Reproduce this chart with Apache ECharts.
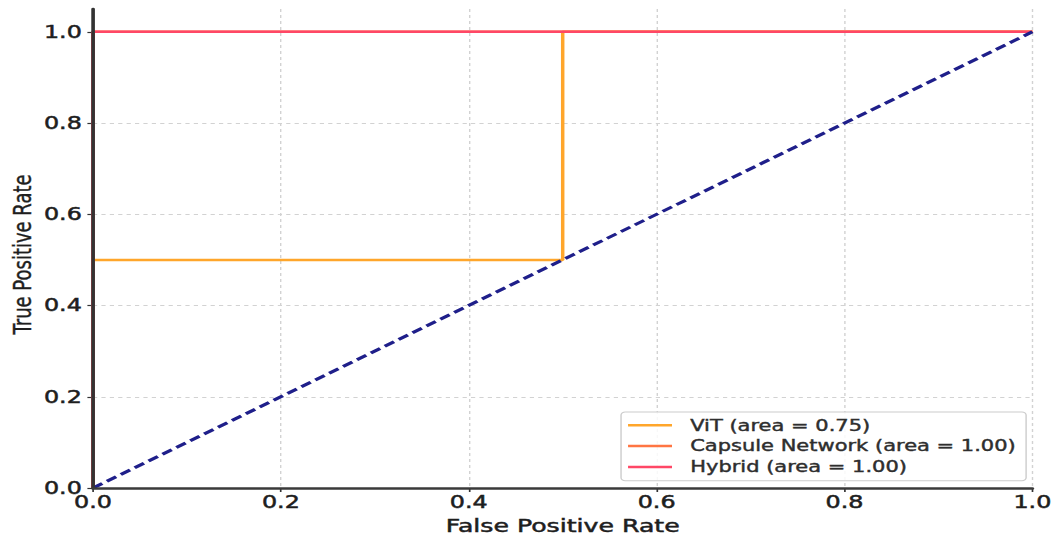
<!DOCTYPE html>
<html>
<head>
<meta charset="utf-8">
<title>ROC curves</title>
<script src="https://cdn.jsdelivr.net/npm/echarts@6/dist/echarts.min.js"></script>
<style>
  html, body { margin: 0; padding: 0; background: #ffffff; overflow: hidden; }
  /* the figure is laid out narrow and widened horizontally */
  #chart {
    width: 756.43px;
    height: 535px;
    transform: scaleX(1.4);
    transform-origin: 0 0;
  }
</style>
</head>
<body>
<div id="chart"></div>
<script>
// ROC points (false positive rate / true positive rate) per model
const vitFpr = [0, 0, 0.5, 0.5, 1];
const vitTpr = [0, 0.5, 0.5, 1, 1];
const capsuleFpr = [0, 0, 1];
const capsuleTpr = [0, 1, 1];
const hybridFpr = [0, 0, 1];
const hybridTpr = [0, 1, 1];
const chanceFpr = [0, 1];
const chanceTpr = [0, 1];

// area under each curve
const modelNames = ['ViT', 'Capsule Network', 'Hybrid'];
const modelAreas = [0.75, 1.00, 1.00];

// axis ticks
const tickValues = [0, 0.2, 0.4, 0.6, 0.8, 1.0];

const FONT = 'DejaVu Sans';
const INK = '#1e1e1e';

function pairs(xs, ys) {
  return xs.map((x, i) => [x, ys[i]]);
}
function legendName(i) {
  return modelNames[i] + ' (area = ' + modelAreas[i].toFixed(2) + ')';
}

const chart = echarts.init(document.getElementById('chart'), null, { renderer: 'svg' });

const gridLine = {
  show: true,
  lineStyle: { color: '#d2d2d2', width: 1, type: [3, 3] }
};
// slight outline to give the text a heavier stroke
const heavy = { textBorderColor: INK, textBorderWidth: 0.5 };

chart.setOption({
  animation: false,
  backgroundColor: '#ffffff',
  grid: { left: 66.43, right: 18.57, top: 9, bottom: 47, containLabel: false, outerBoundsMode: 'none' },
  legend: {
    orient: 'vertical',
    left: 443.6,
    top: 412,
    data: [legendName(0), legendName(1), legendName(2)],
    icon: 'rect',
    itemWidth: 31.4,
    itemHeight: 2.5,
    itemGap: 5.5,
    padding: [5.5, 7, 6, 5],
    backgroundColor: 'rgba(255,255,255,0.85)',
    borderColor: '#cccccc',
    borderWidth: 1,
    borderRadius: 3,
    textStyle: { fontFamily: FONT, fontSize: 15, color: '#2e2e2e', lineHeight: 15,
                 padding: [0, 0, 0, 8], textBorderColor: '#2e2e2e', textBorderWidth: 0.4 }
  },
  xAxis: [
    {
      type: 'value', min: 0, max: 1, interval: 0.2,
      name: 'False Positive Rate', nameLocation: 'middle', nameGap: 27,
      nameTextStyle: Object.assign({ fontFamily: FONT, fontSize: 18, color: INK }, heavy),
      axisLine: { show: false },
      axisTick: { show: true, length: 4, lineStyle: { color: '#333333', width: 1.2 } },
      axisLabel: Object.assign({ margin: 6, fontFamily: FONT, fontSize: 17, color: INK,
                   formatter: v => v.toFixed(1) }, heavy),
      splitLine: gridLine,
      z: 0
    },
    {
      // bottom spine, drawn above the curves
      type: 'value', min: 0, max: 1, position: 'bottom',
      axisLine: { show: true, onZero: false, lineStyle: { color: '#3a3a3a', width: 2.5 } },
      axisTick: { show: false }, axisLabel: { show: false }, splitLine: { show: false },
      z: 10
    }
  ],
  yAxis: [
    {
      type: 'value', min: 0, max: 1.05,
      name: 'True Positive Rate', nameLocation: 'middle', nameGap: 41.5, nameMoveOverlap: false,
      nameTextStyle: { fontFamily: FONT, fontSize: 18, color: INK, padding: [0, 12, 0, 0],
                       textBorderColor: INK, textBorderWidth: 0.3 },
      axisLine: { show: false },
      axisTick: { show: true, length: 4, customValues: tickValues, lineStyle: { color: '#333333', width: 1.2 } },
      axisLabel: Object.assign({ margin: 8, fontFamily: FONT, fontSize: 17, color: INK, customValues: tickValues,
                   formatter: v => v.toFixed(1) }, heavy),
      splitLine: {
        show: true,
        lineStyle: { color: ['#d2d2d2', '#d2d2d2', '#d2d2d2', '#d2d2d2', '#d2d2d2', '#d2d2d2', 'transparent'],
                     width: 1, type: [3, 3] }
      },
      z: 0
    },
    {
      // left spine, drawn above the curves
      type: 'value', min: 0, max: 1.05, position: 'left',
      axisLine: { show: true, onZero: false, lineStyle: { color: '#333333', width: 2.6 } },
      axisTick: { show: false }, axisLabel: { show: false }, splitLine: { show: false },
      z: 10
    }
  ],
  series: [
    {
      name: legendName(0), type: 'line', data: pairs(vitFpr, vitTpr),
      symbol: 'none', color: '#ffa62b',
      lineStyle: { width: 2.5, color: '#ffa62b' }, z: 2
    },
    {
      name: legendName(1), type: 'line', data: pairs(capsuleFpr, capsuleTpr),
      symbol: 'none', color: '#ff7542',
      lineStyle: { width: 2.5, color: '#ff7542' }, z: 3
    },
    {
      name: legendName(2), type: 'line', data: pairs(hybridFpr, hybridTpr),
      symbol: 'none', color: '#ff4766',
      lineStyle: { width: 2.5, color: '#ff4766' }, z: 4
    },
    {
      name: 'chance', type: 'line', data: pairs(chanceFpr, chanceTpr),
      symbol: 'none', color: '#1f1f8a',
      lineStyle: { width: 3, color: '#1f1f8a', type: [8, 4] }, z: 5
    }
  ]
});
</script>
</body>
</html>
